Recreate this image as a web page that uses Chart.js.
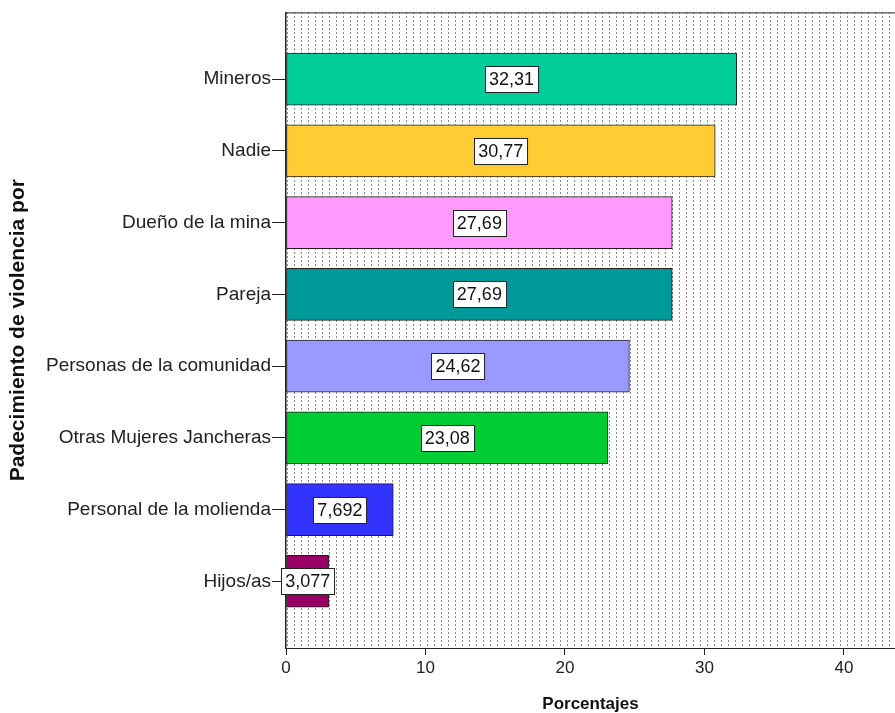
<!DOCTYPE html>
<html>
<head>
<meta charset="utf-8">
<script src="https://cdn.jsdelivr.net/npm/chart.js@4.4.1/dist/chart.umd.min.js"></script>
<style>
  html, body { margin: 0; padding: 0; background: #fff; }
  #wrap { width: 895px; height: 713px; }
</style>
</head>
<body>
<div id="wrap"><canvas id="chart" width="895" height="713"></canvas></div>
<script>
const categories = ['Mineros', 'Nadie', 'Dueño de la mina', 'Pareja', 'Personas de la comunidad',
  'Otras Mujeres Jancheras', 'Personal de la molienda', 'Hijos/as'];
const percents = [32.31, 30.77, 27.69, 27.69, 24.62, 23.08, 7.692, 3.077];
const valueLabels = ['32,31', '30,77', '27,69', '27,69', '24,62', '23,08', '7,692', '3,077'];
const barColors = ['#00CC99', '#FFCC33', '#FF99FF', '#009999', '#9999FF', '#00CC33', '#3333FF', '#990066'];
const xTicks = [0, 10, 20, 30, 40];

const FONT = "'Liberation Sans', Arial, sans-serif";

// trama de puntos del fondo
function dotPattern(ctx) {
  const c = document.createElement('canvas');
  c.width = 7; c.height = 4;
  const g = c.getContext('2d');
  g.fillStyle = '#8a8a8a';
  g.fillRect(0, 0, 1, 2);
  return ctx.createPattern(c, 'repeat');
}

const plotBackground = {
  id: 'plotBackground',
  beforeDatasetsDraw(chart) {
    const { ctx, chartArea: a } = chart;
    ctx.save();
    ctx.fillStyle = dotPattern(ctx);
    ctx.fillRect(a.left, a.top, a.right - a.left, a.bottom - a.top);
    ctx.strokeStyle = '#222';
    ctx.lineWidth = 1;
    ctx.beginPath();
    ctx.moveTo(a.left, a.top + 0.5);
    ctx.lineTo(a.right, a.top + 0.5);
    ctx.stroke();
    ctx.restore();
  }
};

const boxLabels = {
  id: 'boxLabels',
  afterDatasetsDraw(chart) {
    const { ctx } = chart;
    const meta = chart.getDatasetMeta(0);
    ctx.save();
    ctx.font = '18px ' + FONT;
    ctx.textAlign = 'center';
    ctx.textBaseline = 'middle';
    meta.data.forEach((bar, i) => {
      const cx = (bar.x + bar.base) / 2;
      const cy = bar.y;
      const txt = valueLabels[i];
      const w = ctx.measureText(txt).width + 8;
      const h = 26;
      const x0 = Math.round(cx - w / 2) + 0.5, y0 = Math.round(cy - h / 2) + 0.5;
      ctx.fillStyle = '#fff';
      ctx.fillRect(x0, y0, w, h);
      ctx.strokeStyle = '#222';
      ctx.lineWidth = 1;
      ctx.strokeRect(x0, y0, w, h);
      ctx.fillStyle = '#111';
      ctx.fillText(txt, cx, cy + 1);
    });
    ctx.restore();
  }
};

chart = new Chart(document.getElementById('chart'), {
  type: 'bar',
  data: {
    datasets: [{
      data: percents.map((v, i) => ({ x: v, y: i })),
      backgroundColor: barColors,
      borderColor: '#222',
      borderWidth: 1,
      borderSkipped: false,
      barThickness: 52
    }]
  },
  options: {
    indexAxis: 'y',
    responsive: false,
    animation: false,
    layout: { padding: { top: 12, left: 0, right: 0, bottom: 0 } },
    plugins: { legend: { display: false }, tooltip: { enabled: false } },
    scales: {
      x: {
        type: 'linear',
        min: 0,
        max: 43.66,
        afterBuildTicks: s => { s.ticks = xTicks.map(v => ({ value: v })); },
        afterFit: s => { s.height = 65; },
        ticks: { color: '#222', font: { family: FONT, size: 17 }, padding: 3, includeBounds: false },
        grid: { drawOnChartArea: false, color: '#222', tickLength: 7, tickWidth: 1 },
        border: { color: '#222', width: 1 },
        title: {
          display: true, text: 'Porcentajes', color: '#111',
          font: { family: FONT, size: 17, weight: 'bold', lineHeight: 1 },
          padding: { top: 0, bottom: 0 }
        }
      },
      y: {
        type: 'linear',
        reverse: true,
        offset: false,
        min: -0.93,
        max: 7.93,
        afterBuildTicks: s => { s.ticks = categories.map((c, i) => ({ value: i })); },
        afterFit: s => { s.width = 286; },
        ticks: {
          color: '#222', font: { family: FONT, size: 19 }, padding: 1, autoSkip: false,
          callback: v => categories[v]
        },
        grid: { offset: false, drawOnChartArea: false, color: '#222', tickLength: 14, tickWidth: 1 },
        border: { color: '#222', width: 1.5 },
        title: {
          display: true, text: 'Padecimiento de violencia por', color: '#111',
          font: { family: FONT, size: 21, weight: 'bold', lineHeight: 1.2 },
          padding: { top: 6, bottom: 0 }
        }
      }
    }
  },
  plugins: [plotBackground, boxLabels]
});
</script>
</body>
</html>
